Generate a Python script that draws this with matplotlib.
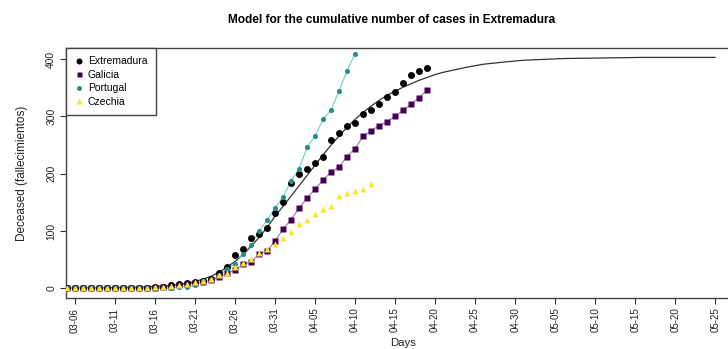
import numpy as np
import pandas as pd
import matplotlib
matplotlib.use("Agg")
import matplotlib.pyplot as plt
import matplotlib.dates as mdates
from matplotlib.lines import Line2D

plt.rcParams["font.family"] = ["Liberation Sans", "DejaVu Sans"]

# observed cumulative deaths, one value per day starting 2020-03-05
start = "2020-03-05"
extremadura = [0, 0, 0, 0, 0, 0, 0, 0, 0, 1, 1, 2, 3, 5, 7, 9, 11, 13, 17, 26,
               37, 58, 68, 87, 95, 106, 132, 151, 183, 199, 208, 218, 229, 258,
               271, 283, 288, 304, 311, 322, 334, 342, 359, 372, 380, 385]
galicia = [0, 0, 0, 0, 0, 0, 0, 0, 0, 0, 0, 1, 2, 3, 5, 8, 9, 11, 14, 19,
           26, 32, 42, 46, 60, 65, 83, 103, 120, 140, 158, 173, 189, 203, 212,
           230, 244, 265, 275, 284, 291, 300, 311, 321, 333, 346]
portugal = [0, 0, 0, 0, 0, 0, 0, 0, 0, 0, 0, 0, 0, 1, 2, 3, 6, 12, 14, 23,
            33, 43, 60, 76, 100, 119, 140, 160, 187, 209, 246, 266, 295, 311,
            345, 380, 409]
czechia = [0, 0, 0, 0, 0, 0, 0, 0, 0, 0, 1, 2, 3, 4, 6, 8, 11, 13, 16, 23,
           27, 38, 44, 51, 61, 68, 78, 88, 99, 112, 120, 130, 139, 144, 161,
           166, 170, 173, 182]

# fitted model curve (day offset from start, value)
model_day = [0, 5, 9, 13, 15, 16, 17, 18, 19, 20, 21, 22, 23, 24, 25, 26, 27,
             28, 29, 30, 31, 32, 33, 34, 35, 36, 37, 38, 39, 40, 41, 42, 43,
             44, 45, 46, 47, 48, 50, 52, 54, 57, 62, 67, 72, 81]
model_val = [0, 1, 2, 5, 9, 12, 16, 21, 28, 37, 47, 59, 73, 89, 106, 126, 143,
             161, 179, 197, 215, 233, 250, 266, 281, 295, 307, 318, 328, 337,
             344, 351, 357, 363, 368, 373, 377, 380, 386, 391, 394, 398, 401,
             402, 403, 403]

tick_dates = pd.date_range("2020-03-06", "2020-05-25", freq="5D")
y_ticks = [0, 100, 200, 300, 400]

labels = ["Extremadura", "Galicia", "Portugal", "Czechia"]
colors = ["black", "#440154", "#21908C", "#FDE725"]


def dates_for(values):
    return mdates.date2num(pd.date_range(start, periods=len(values), freq="D"))


fig = plt.figure(figsize=(7.28, 3.49), dpi=100)
ax = fig.add_axes([66 / 728, 51 / 349, (740 - 66) / 728, 250 / 349])

t0 = mdates.date2num(pd.Timestamp(start))
model_x = t0 + np.array(model_day)
ax.plot(model_x, model_val, color="#333333", lw=0.9, zorder=2)

ax.plot(dates_for(galicia), galicia, color="#a07ab5", lw=0.8, zorder=3)
ax.plot(dates_for(portugal), portugal, color="#6fd0cc", lw=0.8, zorder=3)

ax.plot(dates_for(extremadura), extremadura, "o", color=colors[0], ms=5.0,
        mec="none", zorder=4)
ax.plot(dates_for(galicia), galicia, "s", color=colors[1], ms=3.9,
        mec="none", zorder=4)
ax.plot(dates_for(portugal), portugal, "o", color=colors[2], ms=3.7,
        mec="none", zorder=5)
ax.plot(dates_for(czechia), czechia, "^", color=colors[3], ms=4.6,
        mec="none", zorder=5)

first_tick = mdates.date2num(tick_dates[0])
ax.set_xlim(first_tick - 1.125, first_tick + 83.1)
ax.set_ylim(-16.9, 419.4)

ax.set_xticks(mdates.date2num(tick_dates))
ax.set_xticklabels([d.strftime("%m-%d") for d in tick_dates], rotation=90,
                   fontsize=7.0)
ax.set_yticks(y_ticks)
ax.set_yticklabels([str(v) for v in y_ticks], rotation=90, va="center",
                   fontsize=7.4)
ax.tick_params(direction="out", length=4, width=0.8, colors="#333333",
               labelcolor="#222222", pad=3)

for s in ax.spines.values():
    s.set_linewidth(1.0)
    s.set_color("#444444")

ax.set_xlabel("Days", fontsize=8.2, labelpad=4, color="#222222")
ax.xaxis.set_label_coords((403 - 66) / (740 - 66), -0.16)
ax.set_ylabel("Deceased (fallecimientos)", fontsize=8.5, labelpad=13,
              color="#222222")
fig.text(392 / 728, 1 - 20 / 349,
         "Model for the cumulative number of cases in Extremadura",
         ha="center", va="center", fontsize=8.6, fontweight="bold")

handles = [
    Line2D([], [], ls="none", marker="o", color=colors[0], ms=4.3, mec="none"),
    Line2D([], [], ls="none", marker="s", color=colors[1], ms=3.6, mec="none"),
    Line2D([], [], ls="none", marker="o", color=colors[2], ms=3.6, mec="none"),
    Line2D([], [], ls="none", marker="^", color=colors[3], ms=4.0, mec="none"),
]
leg = ax.legend(handles, labels, loc="upper left",
                borderaxespad=0, fancybox=False, edgecolor="#444444",
                framealpha=1, fontsize=7.5, handlelength=0.8,
                handletextpad=0.5, labelspacing=0.34, borderpad=0.8)
leg.get_frame().set_linewidth(1.0)

fig.savefig("out.png", dpi=100)
